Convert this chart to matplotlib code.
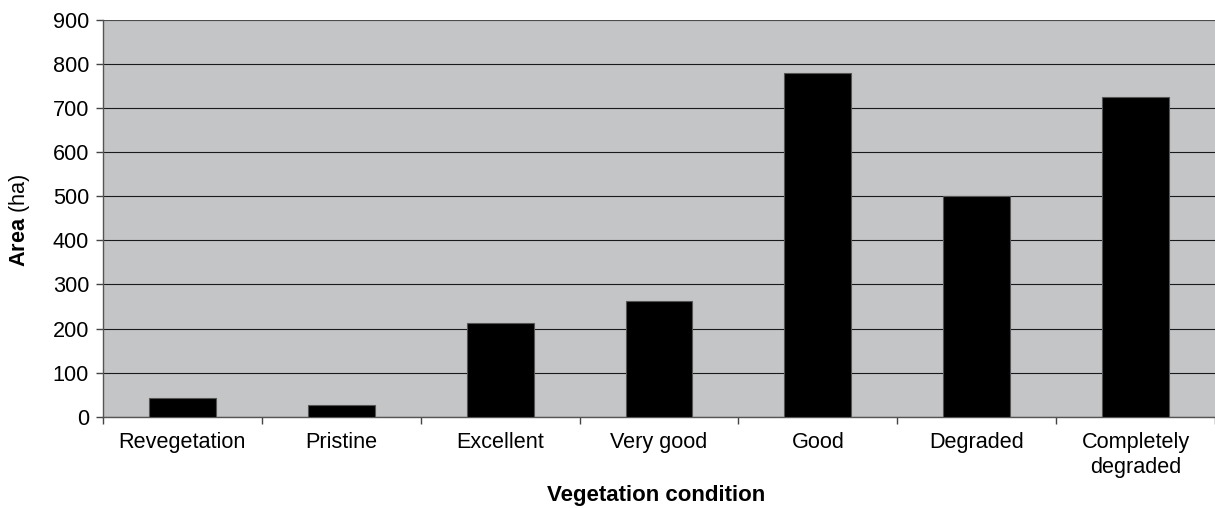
import matplotlib
matplotlib.use("Agg")
import matplotlib.pyplot as plt
import numpy as np

categories = ["Revegetation", "Pristine", "Excellent", "Very good", "Good", "Degraded", "Completely\ndegraded"]
area_ha = [43, 27, 213, 262, 779, 501, 725]
y_ticks = [0, 100, 200, 300, 400, 500, 600, 700, 800, 900]

plt.rcParams['font.family'] = ['Liberation Sans', 'DejaVu Sans']
plt.rcParams['mathtext.fontset'] = 'custom'
plt.rcParams['mathtext.bf'] = 'Liberation Sans:bold'
plt.rcParams['mathtext.rm'] = 'Liberation Sans'

fs = 15.6
fig = plt.figure(figsize=(12.15, 5.08), dpi=100)
ax = fig.add_axes([103 / 1215, 1 - 416.7 / 508, 1 - 103 / 1215, (416.7 - 20) / 508])
ax.set_facecolor('#c4c5c7')

x = np.arange(len(categories))
ax.bar(x, area_ha, width=0.42, color='black', edgecolor='#555555', linewidth=0.8, zorder=3)

ax.set_xlim(-0.5, len(categories) - 0.5)
ax.set_ylim(0, 900)
ax.set_yticks(y_ticks)
ax.set_yticklabels([str(v) for v in y_ticks], fontsize=fs)
ax.yaxis.grid(True, color='#1a1a1a', linewidth=0.8, zorder=1)
ax.set_axisbelow(True)

ax.set_xticks(x)
ax.set_xticklabels(categories, fontsize=fs, linespacing=1.25)
ax.set_xticks(np.arange(-0.5, len(categories) - 0.4, 1.0), minor=True)
ax.tick_params(axis='x', which='major', length=0, pad=11)
ax.tick_params(axis='x', which='minor', length=5, width=1, color='#444444', direction='out')
ax.tick_params(axis='y', length=5, width=1, color='#444444', pad=5)

for s in ['top', 'right']:
    ax.spines[s].set_visible(False)
ax.spines['left'].set_color('#555555')
ax.spines['bottom'].set_color('#555555')
ax.spines['left'].set_linewidth(1.0)
ax.spines['bottom'].set_linewidth(1.0)
ax.axhline(900, color='#555555', linewidth=1.2, zorder=2)

fig.text(20 / 1215, 1 - 220 / 508, r"$\bf{Area}$ (ha)", rotation=90, fontsize=fs,
         ha='center', va='center')
fig.text(656 / 1215, 1 - 496 / 508, "Vegetation condition", fontsize=16,
         fontweight='bold', ha='center', va='center')

fig.savefig("out.png", dpi=100)
